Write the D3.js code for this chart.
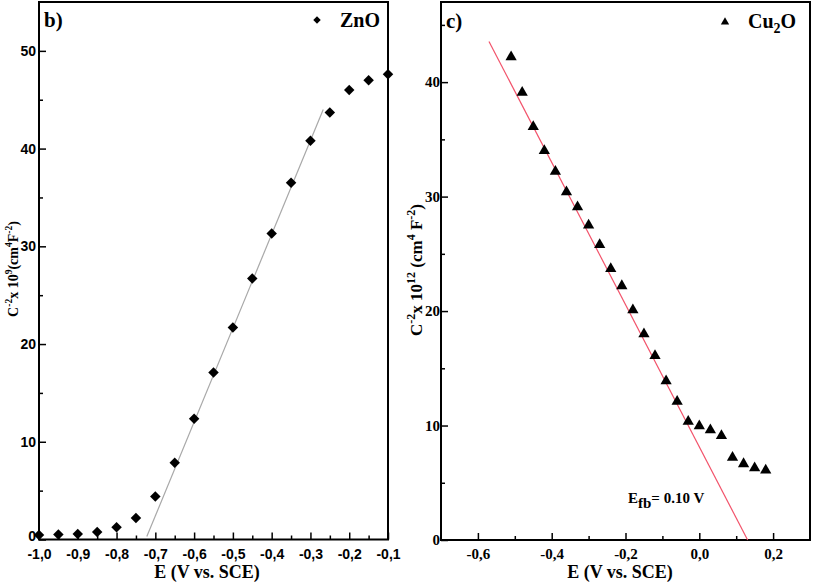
<!DOCTYPE html>
<html><head><meta charset="utf-8">
<script src="https://cdn.jsdelivr.net/npm/d3@7"></script>
<style>
body{margin:0;background:#fff;}
svg{display:block;}
</style></head>
<body>
<svg id="chart" width="813" height="582"></svg>
<script>
// ZnO panel (b)
const znoE = [-1.0,-0.95,-0.9,-0.85,-0.8,-0.75,-0.7,-0.65,-0.6,-0.55,-0.5,-0.45,-0.4,-0.35,-0.3,-0.25,-0.2,-0.15,-0.1];
const znoC = [0.45,0.5,0.56,0.77,1.25,2.2,4.4,7.85,12.35,17.1,21.7,26.7,31.3,36.5,40.8,43.7,46.0,47.0,47.6];
const znoFitE = [-0.722,-0.267];
const znoFitC = [0.3,44.0];
const znoXTicks = [-1.0,-0.9,-0.8,-0.7,-0.6,-0.5,-0.4,-0.3,-0.2,-0.1];
const znoYTicks = [0,10,20,30,40,50];
// Cu2O panel (c)
const cuE = [-0.51,-0.48,-0.45,-0.42,-0.39,-0.36,-0.33,-0.30,-0.27,-0.24,-0.21,-0.18,-0.15,-0.12,-0.09,-0.06,-0.03,0.0,0.03,0.06,0.09,0.12,0.15,0.18];
const cuC = [42.2,39.1,36.1,34.0,32.2,30.4,29.1,27.5,25.8,23.7,22.2,20.1,18.0,16.1,13.9,12.1,10.35,9.95,9.6,9.1,7.2,6.65,6.3,6.1];
const cuFitE = [-0.57,0.131];
const cuFitC = [43.55,0];
const cuXTicks = [-0.6,-0.4,-0.2,0.0,0.2];
const cuYTicks = [0,10,20,30,40];

const svg = d3.select("#chart");
const serif = "'Liberation Serif','Times New Roman',serif";
const sans = "'Liberation Sans',Arial,sans-serif";
const fmtComma = d => d3.format(".1f")(d).replace(".", ",").replace("−","-");

// ---------- Panel b ----------
const xb = d3.scaleLinear().domain([-1.0,-0.1]).range([39,388]);
const yb = d3.scaleLinear().domain([0,55]).range([539.5,2]);
const gb = svg.append("g");

gb.append("g").attr("transform","translate(0,539.5)")
  .call(d3.axisBottom(xb).tickValues(d3.range(-0.95,-0.1,0.1)).tickSize(-4).tickFormat(""))
  .call(g=>g.select(".domain").remove());
gb.append("g").attr("transform","translate(39,0)")
  .call(d3.axisLeft(yb).tickValues([5,15,25,35,45]).tickSize(-4).tickFormat(""))
  .call(g=>g.select(".domain").remove());
gb.append("g").attr("transform","translate(0,539.5)")
  .call(d3.axisBottom(xb).tickValues(znoXTicks).tickSize(-7).tickPadding(10).tickFormat(fmtComma))
  .call(g=>g.selectAll("text").attr("font-family",sans).attr("font-weight","bold").attr("font-size",14).attr("fill","#000"));
gb.append("g").attr("transform","translate(39,0)")
  .call(d3.axisLeft(yb).tickValues(znoYTicks).tickSize(-7).tickPadding(3).tickFormat(d3.format("d")))
  .call(g=>g.selectAll("text").attr("font-family",sans).attr("font-weight","bold").attr("font-size",14).attr("fill","#000")
    .attr("dy", d => d === 0 ? "0.1em" : "0.32em"));
gb.selectAll(".tick line").attr("stroke","#000").attr("stroke-width",1.5);
gb.selectAll(".domain").attr("stroke","none");
gb.append("rect").attr("x",39).attr("y",2).attr("width",349).attr("height",537.5)
  .attr("fill","none").attr("stroke","#000").attr("stroke-width",2);

gb.append("line").attr("x1",xb(znoFitE[0])).attr("y1",yb(znoFitC[0]))
  .attr("x2",xb(znoFitE[1])).attr("y2",yb(znoFitC[1]))
  .attr("stroke","#a8a8a8").attr("stroke-width",1.2);
const diamond = d3.symbol().type(d3.symbolDiamond2).size(70);
gb.selectAll("path.pt").data(znoE.map((e,i)=>[e,znoC[i]])).join("path")
  .attr("class","pt").attr("d",diamond)
  .attr("transform",d=>`translate(${xb(d[0])},${yb(d[1])})`).attr("fill","#000");

gb.append("text").attr("x",44).attr("y",27).attr("font-family",serif).attr("font-weight","bold")
  .attr("font-size",21).text("b)");
gb.append("path").attr("d",d3.symbol().type(d3.symbolDiamond2).size(36))
  .attr("transform","translate(317,20)").attr("fill","#000");
gb.append("text").attr("x",340).attr("y",27).attr("font-family",serif).attr("font-weight","bold")
  .attr("font-size",20).text("ZnO");
gb.append("text").attr("x",207).attr("y",578).attr("text-anchor","middle").attr("font-family",serif)
  .attr("font-weight","bold").attr("font-size",18).text("E (V vs. SCE)");
{
  const t = gb.append("text").attr("transform","translate(18,269) rotate(-90)").attr("text-anchor","middle")
    .attr("font-family",serif).attr("font-weight","bold").attr("font-size",14);
  t.append("tspan").text("C");
  t.append("tspan").attr("dy",-6).attr("font-size",9.5).text("-2");
  t.append("tspan").attr("dy",6).text("x 10");
  t.append("tspan").attr("dy",-6).attr("font-size",9.5).text("9");
  t.append("tspan").attr("dy",6).text("(cm");
  t.append("tspan").attr("dy",-6).attr("font-size",9.5).text("4");
  t.append("tspan").attr("dy",6).text("F");
  t.append("tspan").attr("dy",-6).attr("font-size",9.5).text("-2");
  t.append("tspan").attr("dy",6).text(")");
}

// ---------- Panel c ----------
const xc = d3.scaleLinear().domain([-0.7,0.3]).range([441,810]);
const yc = d3.scaleLinear().domain([0,47]).range([540,2]);
const gc = svg.append("g");

gc.append("g").attr("transform","translate(0,540)")
  .call(d3.axisBottom(xc).tickValues([-0.5,-0.3,-0.1,0.1]).tickSize(-4).tickFormat(""))
  .call(g=>g.select(".domain").remove());
gc.append("g").attr("transform","translate(441,0)")
  .call(d3.axisLeft(yc).tickValues([5,15,25,35,45]).tickSize(-4).tickFormat(""))
  .call(g=>g.select(".domain").remove());
gc.append("g").attr("transform","translate(0,540)")
  .call(d3.axisBottom(xc).tickValues(cuXTicks).tickSize(-7).tickPadding(8).tickFormat(fmtComma))
  .call(g=>g.selectAll("text").attr("font-family",serif).attr("font-weight","bold").attr("font-size",15).attr("fill","#000"));
gc.append("g").attr("transform","translate(441,0)")
  .call(d3.axisLeft(yc).tickValues(cuYTicks).tickSize(-7).tickPadding(1).tickFormat(d3.format("d")))
  .call(g=>g.selectAll("text").attr("font-family",serif).attr("font-weight","bold").attr("font-size",15).attr("fill","#000"));
gc.selectAll(".tick line").attr("stroke","#000").attr("stroke-width",1.5);
gc.selectAll(".domain").attr("stroke","none");
gc.append("rect").attr("x",441).attr("y",2).attr("width",369).attr("height",538)
  .attr("fill","none").attr("stroke","#000").attr("stroke-width",2);

gc.append("line").attr("x1",xc(cuFitE[0])).attr("y1",yc(cuFitC[0]))
  .attr("x2",xc(cuFitE[1])).attr("y2",yc(cuFitC[1]))
  .attr("stroke","#f2536b").attr("stroke-width",1.2);
const tri = d3.symbol().type(d3.symbolTriangle).size(55);
gc.selectAll("path.pt").data(cuE.map((e,i)=>[e,cuC[i]])).join("path")
  .attr("class","pt").attr("d",tri)
  .attr("transform",d=>`translate(${xc(d[0])},${yc(d[1])})`).attr("fill","#000");

gc.append("text").attr("x",446).attr("y",28).attr("font-family",serif).attr("font-weight","bold")
  .attr("font-size",21).text("c)");
gc.append("path").attr("d",d3.symbol().type(d3.symbolTriangle).size(30))
  .attr("transform","translate(725,22)").attr("fill","#000");
{
  const t = gc.append("text").attr("x",748).attr("y",28).attr("font-family",serif).attr("font-weight","bold").attr("font-size",20);
  t.append("tspan").text("Cu");
  t.append("tspan").attr("dy",5).attr("font-size",14).text("2");
  t.append("tspan").attr("dy",-5).text("O");
}
{
  const t = gc.append("text").attr("x",628).attr("y",503).attr("font-family",serif).attr("font-weight","bold").attr("font-size",15);
  t.append("tspan").text("E");
  t.append("tspan").attr("dy",5).text("fb");
  t.append("tspan").attr("dy",-5).text("= 0.10 V");
}
gc.append("text").attr("x",620).attr("y",578).attr("text-anchor","middle").attr("font-family",serif)
  .attr("font-weight","bold").attr("font-size",18).text("E (V vs. SCE)");
{
  const t = gc.append("text").attr("transform","translate(422,270) rotate(-90)").attr("text-anchor","middle")
    .attr("font-family",serif).attr("font-weight","bold").attr("font-size",17);
  t.append("tspan").text("C");
  t.append("tspan").attr("dy",-7).attr("font-size",12).text("-2");
  t.append("tspan").attr("dy",7).text("x 10");
  t.append("tspan").attr("dy",-7).attr("font-size",12).text("12");
  t.append("tspan").attr("dy",7).text(" (cm");
  t.append("tspan").attr("dy",-7).attr("font-size",12).text("4");
  t.append("tspan").attr("dy",7).text(" F");
  t.append("tspan").attr("dy",-7).attr("font-size",12).text("-2");
  t.append("tspan").attr("dy",7).text(")");
}
</script>
</body></html>
